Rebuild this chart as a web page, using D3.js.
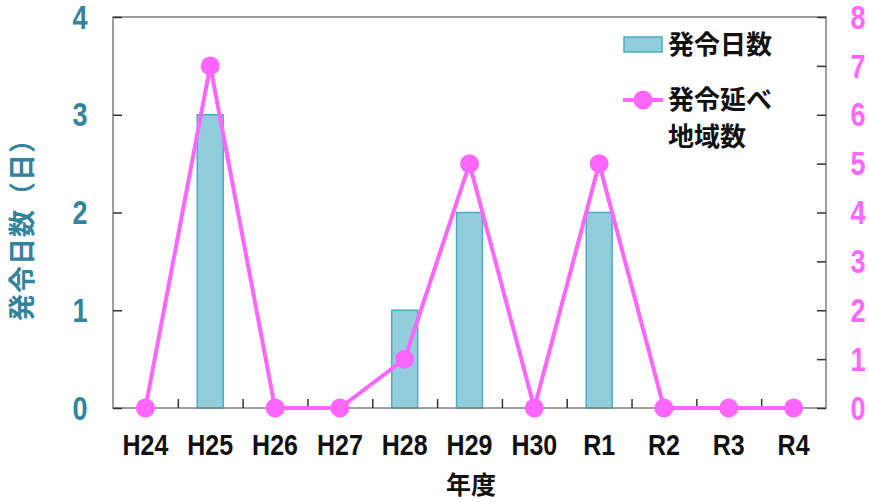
<!DOCTYPE html>
<html>
<head>
<meta charset="utf-8">
<script src="https://cdn.jsdelivr.net/npm/d3@7"></script>
<style>
  html, body { margin: 0; padding: 0; background: #fff; }
  svg { display: block; }
  text { font-family: "Liberation Sans", "Noto Sans CJK JP", sans-serif; font-weight: bold; }
  .jp { font-family: "Noto Sans CJK JP", sans-serif; font-weight: bold; }
</style>
</head>
<body>
<svg id="chart" width="869" height="502"></svg>
<script>
// Fiscal years
const years = ["H24", "H25", "H26", "H27", "H28", "H29", "H30", "R1", "R2", "R3", "R4"];
// Number of days an order was issued (left axis)
const issueDays = [0, 3, 0, 0, 1, 2, 0, 2, 0, 0, 0];
// Cumulative number of areas covered (right axis)
const areaCounts = [0, 7, 0, 0, 1, 5, 0, 5, 0, 0, 0];
const leftTicks = [0, 1, 2, 3, 4];
const rightTicks = [0, 1, 2, 3, 4, 5, 6, 7, 8];

const W = 869, H = 502;
const m = { left: 113, right: 43, top: 17, bottom: 94 };
const iw = W - m.left - m.right, ih = H - m.top - m.bottom;

const barFill = "#92cddc", barStroke = "#4bacc6";
const lineColor = "#ff66ff";
const leftColor = "#31849b";
const frameColor = "#7f7f7f";

const svg = d3.select("#chart");
const g = svg.append("g").attr("transform", `translate(${m.left},${m.top})`);

const x = d3.scaleBand().domain(years).range([0, iw]).padding(0);
const yL = d3.scaleLinear().domain([0, 4]).range([ih, 0]);
const yR = d3.scaleLinear().domain([0, 8]).range([ih, 0]);

// Bars
const bw = x.bandwidth() * 0.4;
g.selectAll("rect.bar").data(years.map((d, i) => ({ y: d, v: issueDays[i] })).filter(d => d.v > 0))
  .enter().append("rect")
  .attr("x", d => x(d.y) + x.bandwidth() / 2 - bw / 2)
  .attr("y", d => yL(d.v))
  .attr("width", bw)
  .attr("height", d => ih - yL(d.v))
  .attr("fill", barFill)
  .attr("stroke", barStroke)
  .attr("stroke-width", 1.5);

// Plot frame
g.append("rect").attr("x", 0).attr("y", 0).attr("width", iw).attr("height", ih)
  .attr("fill", "none").attr("stroke", frameColor).attr("stroke-width", 1.5);

const styleTicks = a => { a.select(".domain").remove(); a.selectAll("line").attr("stroke", "#333").attr("stroke-width", 1.5); };
// Left axis ticks (inward)
g.append("g").call(d3.axisRight(yL).tickValues(leftTicks).tickSize(9).tickFormat("")).call(styleTicks);
// Right axis ticks (inward)
g.append("g").attr("transform", `translate(${iw},0)`)
  .call(d3.axisLeft(yR).tickValues(rightTicks).tickSize(9).tickFormat("")).call(styleTicks);
// Category separator ticks on the bottom axis (inward)
const sepScale = d3.scaleLinear().domain([0, years.length]).range([0, iw]);
g.append("g").attr("transform", `translate(0,${ih})`)
  .call(d3.axisTop(sepScale).tickValues(d3.range(1, years.length)).tickSize(9).tickFormat("")).call(styleTicks);

// Tall, narrow numerals
const stretch = 1.2;
g.selectAll("text.yl").data(leftTicks).enter().append("text")
  .attr("transform", d => `translate(-33,${yL(d)}) scale(1,${stretch})`).attr("dy", "0.36em")
  .attr("text-anchor", "middle").attr("fill", leftColor).attr("font-size", 27)
  .text(d => d);
g.selectAll("text.yr").data(rightTicks).enter().append("text")
  .attr("transform", d => `translate(${iw + 32},${yR(d)}) scale(1,${stretch})`).attr("dy", "0.36em")
  .attr("text-anchor", "middle").attr("fill", lineColor).attr("font-size", 27)
  .text(d => d);
g.selectAll("text.xl").data(years).enter().append("text")
  .attr("transform", d => `translate(${x(d) + x.bandwidth() / 2},${ih + 37}) scale(1,1.15)`)
  .attr("dy", "0.36em")
  .attr("text-anchor", "middle").attr("fill", "#111").attr("font-size", 25)
  .text(d => d);

// Axis titles
svg.append("text").attr("class", "jp")
  .attr("transform", `translate(32,223) rotate(-90)`)
  .attr("text-anchor", "middle").attr("fill", leftColor).attr("font-size", 27)
  .attr("letter-spacing", 1)
  .text("発令日数（日）");
svg.append("text").attr("class", "jp")
  .attr("x", 471).attr("y", 494)
  .attr("text-anchor", "middle").attr("fill", "#111").attr("font-size", 25)
  .text("年度");

// Line series
const line = d3.line().x((d, i) => x(years[i]) + x.bandwidth() / 2).y(d => yR(d));
g.append("path").datum(areaCounts).attr("d", line)
  .attr("fill", "none").attr("stroke", lineColor).attr("stroke-width", 4).attr("stroke-linejoin", "miter");
g.selectAll("circle.pt").data(areaCounts).enter().append("circle")
  .attr("cx", (d, i) => x(years[i]) + x.bandwidth() / 2)
  .attr("cy", d => yR(d)).attr("r", 9.5).attr("fill", lineColor);

// Legend
const lg = svg.append("g");
lg.append("rect").attr("x", 624).attr("y", 37).attr("width", 38).attr("height", 15)
  .attr("fill", barFill).attr("stroke", barStroke).attr("stroke-width", 1.5);
lg.append("text").attr("class", "jp").attr("x", 668).attr("y", 45).attr("dy", "0.36em")
  .attr("font-size", 26).attr("fill", "#111").text("発令日数");
lg.append("line").attr("x1", 623).attr("x2", 663).attr("y1", 100).attr("y2", 100)
  .attr("stroke", lineColor).attr("stroke-width", 4);
lg.append("circle").attr("cx", 643).attr("cy", 100).attr("r", 9.5).attr("fill", lineColor);
lg.append("text").attr("class", "jp").attr("x", 668).attr("y", 100).attr("dy", "0.36em")
  .attr("font-size", 26).attr("fill", "#111").text("発令延べ");
lg.append("text").attr("class", "jp").attr("x", 668).attr("y", 137).attr("dy", "0.36em")
  .attr("font-size", 26).attr("fill", "#111").text("地域数");
</script>
</body>
</html>
